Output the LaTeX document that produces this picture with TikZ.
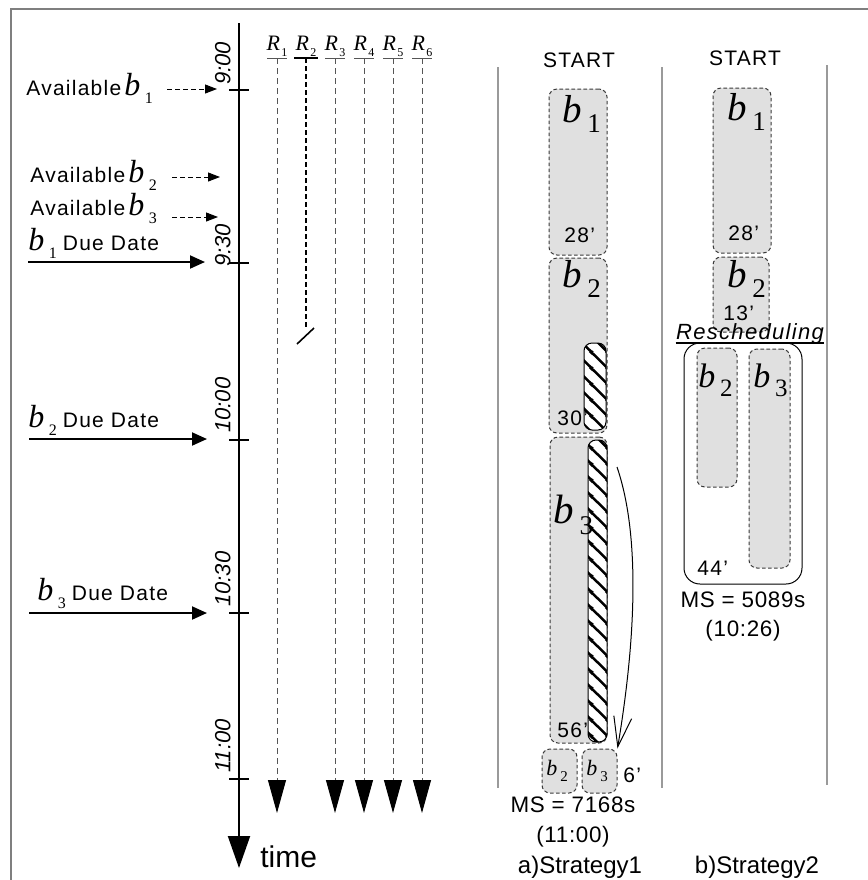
\documentclass[tikz,border=0pt]{standalone}
\usepackage{fontspec}
\setmainfont{Liberation Sans}
\newfontfamily\serif{Liberation Serif}
\usetikzlibrary{arrows.meta,positioning,calc,fit,patterns.meta}
\definecolor{jobfill}{HTML}{E0E0E0}
\definecolor{jobedge}{HTML}{3A3A3A}
\definecolor{lanegray}{HTML}{555555}
\definecolor{framegray}{HTML}{7F7F7F}
\definecolor{sepgray}{HTML}{9A9A9A}

\newcommand{\bsym}[3]{{\serif\fontsize{#1}{#1}\selectfont\itshape b\kern.14em\raisebox{-.28em}{\fontsize{#2}{#2}\selectfont\upshape #3}}}
\newcommand{\rsym}[1]{{\serif\fontsize{11}{12}\selectfont\itshape R\kern.05em\raisebox{-.3em}{\fontsize{6}{7}\selectfont\upshape #1}}}

\tikzdeclarepattern{
  name=hatch, type=uncolored,
  bounding box={(0pt,0pt) and (8pt,8pt)},
  tile size={(8pt,8pt)},
  code={
    \draw[line width=1.3pt] (-2pt,10pt) -- (10pt,-2pt);
    \draw[line width=1.3pt] (-2pt,2pt) -- (2pt,-2pt);
    \draw[line width=1.3pt] (6pt,10pt) -- (10pt,6pt);
  }
}

\begin{document}
\begin{tikzpicture}[x=0.5pt, y=-0.5pt,
  lbl/.style={font=\fontsize{10.5}{12}\selectfont\addfontfeature{LetterSpace=6}, inner sep=0pt},
  msl/.style={font=\fontsize{11.2}{13}\selectfont\addfontfeature{LetterSpace=3}, inner sep=0pt},
  tlbl/.style={font=\fontsize{11}{12}\selectfont\itshape, inner sep=0pt, rotate=90, anchor=south west},
  job/.style={draw=jobedge, fill=jobfill, dash pattern=on 1.8pt off 1.2pt, line width=0.5pt, rounded corners=4pt, inner sep=0pt},
  cut/.style={draw=black, line width=0.5pt, rounded corners=4pt, pattern=hatch, preaction={fill=white}, inner sep=0pt},
  lane/.style={draw=lanegray, line width=0.5pt, dash pattern=on 3pt off 2pt, -{Triangle[length=16.5pt,width=9pt,color=black]}},
  avail/.style={dash pattern=on 2.5pt off 1.5pt, line width=0.5pt, -{Triangle[length=6pt,width=4.5pt]}},
  due/.style={line width=1pt, -{Triangle[length=7.5pt,width=6.5pt]}},
  sep/.style={draw=sepgray, line width=0.6pt}]
\useasboundingbox (0,0) rectangle (868,880);
\draw[framegray, line width=1pt] (10.5,880) -- (10.5,8.5) -- (868,8.5);

% time axis
\coordinate (ttop) at (239,23);
\coordinate (tend) at (239,868);
\draw[line width=1pt, -{Triangle[length=16pt,width=11pt]}] (ttop) -- (tend);
\node[font=\fontsize{15}{16}\selectfont, inner sep=0pt, anchor=base west] (tword) at (260,867) {time};
\foreach \n/\y/\ly/\t in {a/90/85/9:00, b/263/267/9:30, c/440/433/10:00, d/613/607/10:30, e/779/773/11:00}{
  \coordinate (tk\n) at (239,\y);
  \draw[line width=0.8pt] ([xshift=-5pt]tk\n) -- ([xshift=5pt]tk\n);
  \node[tlbl] (tl\n) at (231,\ly) {\t};
}

% resources
\foreach \i/\x in {1/277,3/335,4/364,5/393,6/422}{
  \node[inner sep=0pt, anchor=base] (r\i) at (\x,50) {\rsym{\i}};
  \coordinate (rtop\i) at (\x,58);
  \coordinate (rend\i) at (\x,813);
  \draw[lanegray, line width=0.5pt] ([xshift=-5pt]rtop\i) -- ([xshift=5pt]rtop\i);
  \draw[lane] (rtop\i) -- (rend\i);
}
\node[inner sep=0pt, anchor=base] (r2) at (306,50) {\rsym{2}};
\coordinate (rtop2) at (306,58);
\coordinate (rcut2) at (306,328);
\draw[line width=1.2pt] ([xshift=-6pt]rtop2) -- ([xshift=6pt]rtop2);
\draw[line width=1pt, dash pattern=on 2.5pt off 1.5pt] (rtop2) -- (rcut2);
\draw[line width=0.8pt] (297,344) -- (314,328);

% arrivals and due dates
\node[lbl, anchor=base west] (av1) at (26,95) {Available\hspace{1.5pt}\bsym{16}{8}{1}};
\node[lbl, anchor=base west] (av2) at (30,182) {Available\hspace{1.5pt}\bsym{16}{8}{2}};
\node[lbl, anchor=base west] (av3) at (30,215) {Available\hspace{1.5pt}\bsym{16}{8}{3}};
\coordinate (av1s) at (167,89);  \coordinate (av1e) at (217,89);
\coordinate (av2s) at (172,177); \coordinate (av2e) at (220,177);
\coordinate (av3s) at (172,217); \coordinate (av3e) at (218,217);
\draw[avail] (av1s) -- (av1e);
\draw[avail] (av2s) -- (av2e);
\draw[avail] (av3s) -- (av3e);

\node[lbl, anchor=base west] (due1) at (28,250) {\bsym{16}{8}{1}\hspace{3pt}Due Date};
\node[lbl, anchor=base west] (due2) at (28,427) {\bsym{16}{8}{2}\hspace{3pt}Due Date};
\node[lbl, anchor=base west] (due3) at (37,600) {\bsym{16}{8}{3}\hspace{3pt}Due Date};
\coordinate (du1s) at (28,262); \coordinate (du1e) at (205,262);
\coordinate (du2s) at (29,439); \coordinate (du2e) at (207,439);
\coordinate (du3s) at (29,613); \coordinate (du3e) at (207,613);
\draw[due] (du1s) -- (du1e);
\draw[due] (du2s) -- (du2e);
\draw[due] (du3s) -- (du3e);

% strategy columns
\draw[sep] (498,67) -- (498,788);
\draw[sep] (662,67) -- (662,788);
\draw[sep] (827,65) -- (827,785);
\node[lbl, anchor=base] (start1) at (579,67) {START};
\node[lbl, anchor=base] (start2) at (745,65) {START};

% strategy 1
\node[job, fit={(549,89) (607,255)}] (s1b1) {};
\node[inner sep=0pt, anchor=base west] at (562,122) {\bsym{19.5}{13.5}{1}};
\node[lbl, anchor=base west] (s1t1) at (564,242) {28'};
\node[job, fit={(549,258) (607,433)}] (s1b2) {};
\node[inner sep=0pt, anchor=base west] at (562,287) {\bsym{19.5}{13.5}{2}};
\node[cut, fit={(584,343) (606,430)}] (s1h2) {};
\node[lbl, anchor=base west] (s1t2) at (557,425) {30'};
\node[job, fit={(550,437) (607,743)}] (s1b3) {};
\node[cut, fit={(588,440) (607,742)}] (s1h3) {};
\node[inner sep=0pt, anchor=base west] at (553,523) {\bsym{20.5}{13.5}{3}};
\node[lbl, anchor=base west] (s1t3) at (557,737) {56'};
\node[job, fit={(542,749) (577,793)}] (s1c2) {};
\node[job, fit={(582,749) (617,793)}] (s1c3) {};
\node[inner sep=0pt, anchor=base west] at (546,775) {\bsym{11}{7.5}{2}};
\node[inner sep=0pt, anchor=base west] at (586,775) {\bsym{11}{7.5}{3}};
\node[lbl, anchor=base west] (s1t4) at (623,782) {6'};
\coordinate (mv1) at (617,467);
\draw[line width=0.5pt, -{Straight Barb[length=15pt,width=9pt]}] (mv1) .. controls (642,540) and (634,650) .. (s1c3.north east);
\node[msl, anchor=base] (ms1) at (573,812) {MS = 7168s};
\node[msl, anchor=base] (mt1) at (573,842) {(11:00)};
\node[msl, font=\fontsize{12}{13}\selectfont, anchor=base] (st1) at (580,873) {a)Strategy1};

% strategy 2
\node[job, fit={(713,88) (771,253)}] (s2b1) {};
\node[inner sep=0pt, anchor=base west] at (727,120) {\bsym{19.5}{13.5}{1}};
\node[lbl, anchor=base west] (s2t1) at (728,240) {28'};
\node[job, fit={(713,257) (769,332)}] (s2b2) {};
\node[inner sep=0pt, anchor=base west] at (727,287) {\bsym{19.5}{13.5}{2}};
\node[lbl, anchor=base west] (s2t2) at (723,320) {13'};
\node[font=\fontsize{11}{12}\selectfont\itshape\addfontfeature{LetterSpace=6}, inner sep=0pt, anchor=base] (resch) at (750,339) {Rescheduling};
\draw[line width=0.8pt] ([yshift=-2pt]resch.base west) -- ([yshift=-2pt]resch.base east);
\node[draw, line width=0.5pt, rounded corners=8pt, fit={(684,343) (802,584)}, inner sep=0pt] (resbox) {};
\node[job, fit={(697,348) (737,487)}] (s2r2) {};
\node[job, fit={(749,349) (790,568)}] (s2r3) {};
\node[inner sep=0pt, anchor=base west] at (698,387) {\bsym{17}{12.5}{2}};
\node[inner sep=0pt, anchor=base west] at (753,387) {\bsym{17}{12.5}{3}};
\node[lbl, anchor=base west] (s2t3) at (697,575) {44'};
\node[msl, anchor=base] (ms2) at (743,607) {MS = 5089s};
\node[msl, anchor=base] (mt2) at (743,636) {(10:26)};
\node[msl, font=\fontsize{12}{13}\selectfont, anchor=base] (st2) at (757,873) {b)Strategy2};
\end{tikzpicture}
\end{document}
